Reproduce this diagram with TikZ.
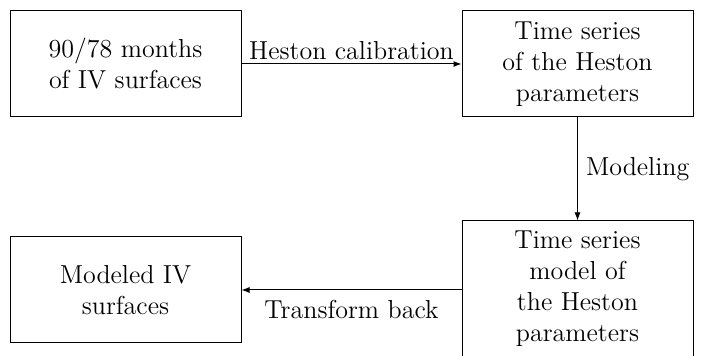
\documentclass[tikz,border=0pt]{standalone}
\usetikzlibrary{arrows.meta}
\begin{document}
\begin{tikzpicture}[x=0.5pt,y=-0.5pt,
  box/.style={draw,line width=0.5pt,minimum width=115.5pt,minimum height=53pt,align=center,inner sep=0pt,font=\fontsize{13}{15.5}\selectfont},
  conn/.style={draw,line width=0.5pt,-{Latex[length=4pt,width=3pt]}},
  lbl/.style={font=\fontsize{13}{15.5}\selectfont,inner sep=2pt}]
\useasboundingbox (0,0) rectangle (701,356);
\node[box] (a) at (125.5,64) {90/78 months\\of IV surfaces};
\node[box] (b) at (577.5,64) {Time series\\of the Heston\\parameters};
\node[box,minimum height=68pt] (c) at (577.5,289) {Time series\\model of\\the Heston\\parameters};
\node[box] (d) at (125.5,290) {Modeled IV\\surfaces};
\draw[conn] (a.east) -- node[lbl,above] (l1) {Heston calibration} (b.west);
\draw[conn] (b.south) -- node[lbl,right,inner sep=4pt] (l2) {Modeling} (c.north);
\draw[conn] (c.west |- d.east) -- node[lbl,below,yshift=-3pt] (l3) {Transform back} (d.east);
\end{tikzpicture}
\end{document}
